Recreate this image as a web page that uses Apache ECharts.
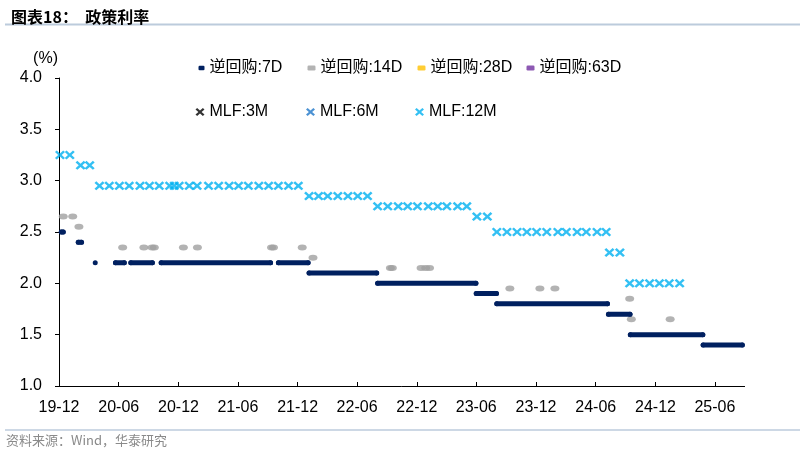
<!DOCTYPE html>
<html><head><meta charset="utf-8">
<script src="https://cdn.jsdelivr.net/npm/echarts@6/dist/echarts.min.js"></script>
<style>html,body{margin:0;padding:0;background:#fff}#c{width:800px;height:455px}</style>
</head><body><div id="c"></div>
<script>
// ---- axis ----
const X_ORIGIN = '2019-12-13';
const X_END = '2025-09-12';
const xTickDates = ['2019-12-13','2020-06-13','2020-12-13','2021-06-13','2021-12-13','2022-06-13','2022-12-13','2023-06-13','2023-12-13','2024-06-13','2024-12-13','2025-06-13'];
const xTickLabels = ['19-12','20-06','20-12','21-06','21-12','22-06','22-12','23-06','23-12','24-06','24-12','25-06'];
const yMin = 1.0, yMax = 4.0, yStep = 0.5;

// ---- 7D reverse repo: operation runs [start, end, rate] ----
const rr7Runs = [
  ['2019-12-20','2019-12-26',2.50],
  ['2020-02-10','2020-02-20',2.40],
  ['2020-04-02','2020-04-02',2.20],
  ['2020-06-03','2020-06-30',2.20],
  ['2020-07-20','2020-09-24',2.20],
  ['2020-10-21','2021-09-21',2.20],
  ['2021-10-15','2022-01-14',2.20],
  ['2022-01-17','2022-08-12',2.10],
  ['2022-08-15','2023-06-12',2.00],
  ['2023-06-13','2023-08-14',1.90],
  ['2023-08-15','2024-07-19',1.80],
  ['2024-07-22','2024-09-26',1.70],
  ['2024-09-27','2025-05-07',1.50],
  ['2025-05-08','2025-09-05',1.40]
];

// ---- 14D reverse repo ----
const rr14Dates = ['2019-12-26','2020-01-24','2020-02-12','2020-06-25','2020-08-29','2020-09-23','2020-09-30','2020-12-28','2021-02-09','2021-09-24','2021-09-30','2021-12-27','2022-01-29','2022-09-23','2022-09-29','2022-12-26','2023-01-09','2023-01-21','2023-09-24','2023-12-25','2024-02-09','2024-09-25','2024-09-30','2025-01-27'];
const rr14Rates = [2.65,2.65,2.55,2.35,2.35,2.35,2.35,2.35,2.35,2.35,2.35,2.35,2.25,2.15,2.15,2.15,2.15,2.15,1.95,1.95,1.95,1.85,1.65,1.65];

// ---- 28D / 63D reverse repo (no operations in range) ----
const rr28Dates = [], rr28Rates = [];
const rr63Dates = [], rr63Rates = [];

// ---- MLF ----
const mlf3Dates = [], mlf3Rates = [];
const mlf6Dates = [], mlf6Rates = [];
const mlf12Dates = ['2019-12-16','2020-01-15','2020-02-17','2020-03-16',
  '2020-04-15','2020-05-15','2020-06-15','2020-07-15','2020-08-17','2020-09-15','2020-10-15','2020-11-16','2020-11-30','2020-12-15',
  '2021-01-15','2021-02-08','2021-03-15','2021-04-15','2021-05-17','2021-06-15','2021-07-15','2021-08-16','2021-09-15','2021-10-15','2021-11-15','2021-12-15',
  '2022-01-17','2022-02-15','2022-03-15','2022-04-15','2022-05-16','2022-06-15','2022-07-15',
  '2022-08-15','2022-09-15','2022-10-17','2022-11-15','2022-12-15','2023-01-17','2023-02-15','2023-03-15','2023-04-17','2023-05-15',
  '2023-06-15','2023-07-17',
  '2023-08-15','2023-09-15','2023-10-16','2023-11-15','2023-12-15','2024-01-15','2024-02-18','2024-03-15','2024-04-17','2024-05-15','2024-06-17','2024-07-15',
  '2024-07-25','2024-08-26',
  '2024-09-25','2024-10-25','2024-11-25','2024-12-25','2025-01-24','2025-02-25'];
const mlf12Rates = [3.25,3.25,3.15,3.15,
  2.95,2.95,2.95,2.95,2.95,2.95,2.95,2.95,2.95,2.95,
  2.95,2.95,2.95,2.95,2.95,2.95,2.95,2.95,2.95,2.95,2.95,2.95,
  2.85,2.85,2.85,2.85,2.85,2.85,2.85,
  2.75,2.75,2.75,2.75,2.75,2.75,2.75,2.75,2.75,2.75,
  2.65,2.65,
  2.50,2.50,2.50,2.50,2.50,2.50,2.50,2.50,2.50,2.50,2.50,2.50,
  2.30,2.30,
  2.00,2.00,2.00,2.00,2.00,2.00];

// ---- helpers ----
const DAY = 86400000;
function ts(s){const p=s.split('-').map(Number);return Date.UTC(p[0],p[1]-1,p[2]);}
const T0 = ts(X_ORIGIN);
function dx(s){return (ts(s)-T0)/DAY;}
function pts(dates, rates){return dates.map((d,i)=>[dx(d), rates[i]]);}
const rr7Data = [];
rr7Runs.forEach(r=>{
  rr7Data.push([dx(r[0]), r[2]]);
  if (r[1] !== r[0]) rr7Data.push([dx(r[1]), r[2]]);
  rr7Data.push([dx(r[1]) + 0.5, '-']);
});
const xTickVals = xTickDates.map(dx);

const FONT = 'Liberation Sans, Arial, Noto Sans CJK SC, sans-serif';
const XSYM = 'path://M0,1.8L1.8,0L5,3.2L8.2,0L10,1.8L6.8,5L10,8.2L8.2,10L5,6.8L1.8,10L0,8.2L3.2,5Z';

function lg(name, left, top, icon, w, h){
  return {left:left, top:top, padding:0, itemGap:0, selectedMode:false, symbolKeepAspect:false,
    itemWidth:w, itemHeight:h,
    data:[icon ? {name:name, icon:icon} : {name:name}],
    textStyle:{fontSize:16, fontFamily:FONT, color:'#000', lineHeight:18}};
}

const chart = echarts.init(document.getElementById('c'), null, {renderer:'canvas'});
chart.setOption({
  animation:false,
  backgroundColor:'#fff',
  title:{text:'图表18：  政策利率', left:6, top:4,
    textStyle:{fontSize:16, fontWeight:'bold', color:'#000', fontFamily:'Noto Sans CJK SC, sans-serif'}},
  graphic:[
    {type:'line', shape:{x1:5,y1:24.5,x2:800,y2:24.5}, style:{stroke:'#bccbdc', lineWidth:2}},
    {type:'line', shape:{x1:5,y1:430,x2:800,y2:430}, style:{stroke:'#bccbdc', lineWidth:1.5}},
    {type:'text', left:6, top:434, style:{text:'资料来源：Wind，华泰研究', fill:'#8a8a8a', font:'13px "Noto Sans CJK SC", sans-serif'}}
  ],
  legend:[
    lg('逆回购:7D', 198.5, 59, 'roundRect', 6, 4.5),
    lg('逆回购:14D', 307.5, 59, 'roundRect', 8, 5),
    lg('逆回购:28D', 417.5, 59, 'roundRect', 8, 5),
    lg('逆回购:63D', 526.5, 59, 'roundRect', 8, 5),
    lg('MLF:3M', 195.5, 103, null, 9, 8),
    lg('MLF:6M', 306, 103, null, 9, 8),
    lg('MLF:12M', 415, 103, null, 9, 8)
  ],
  grid:{left:59, right:55.4, top:78, bottom:69, containLabel:false},
  xAxis:{type:'value', min:0, max:dx(X_END),
    axisLine:{show:true, onZero:false, lineStyle:{color:'#000', width:1}},
    axisTick:{show:true, inside:true, length:4, customValues:xTickVals, lineStyle:{color:'#000'}},
    axisLabel:{show:true, customValues:xTickVals, margin:14, fontSize:16, fontFamily:FONT, color:'#000',
      formatter:function(v){const i=xTickVals.findIndex(t=>Math.abs(t-v)<0.01);return i>=0?xTickLabels[i]:'';}},
    splitLine:{show:false}},
  yAxis:{type:'value', min:yMin, max:yMax, interval:yStep,
    name:'(%)', nameLocation:'end', nameGap:11,
    nameTextStyle:{fontSize:16, fontFamily:FONT, color:'#000', align:'right', padding:[0,1,0,0]},
    axisLine:{show:true, lineStyle:{color:'#000', width:1}},
    axisTick:{show:true, inside:false, length:4, lineStyle:{color:'#000'}},
    axisLabel:{margin:17, fontSize:16, fontFamily:FONT, color:'#000', formatter:v=>v.toFixed(1)},
    splitLine:{show:false}},
  series:[
    {name:'逆回购:7D', type:'line', data:rr7Data, connectNulls:false, color:'#002060',
      showSymbol:true, symbol:'circle', symbolSize:5, itemStyle:{color:'#002060'},
      lineStyle:{color:'#002060', width:5, cap:'round'}, emphasis:{disabled:true}, z:3},
    {name:'逆回购:14D', type:'scatter', data:pts(rr14Dates, rr14Rates), symbol:'circle', symbolSize:[9,6],
      itemStyle:{color:'#a0a0a0'}, emphasis:{disabled:true}, z:2},
    {name:'逆回购:28D', type:'scatter', data:pts(rr28Dates, rr28Rates), symbol:'circle', symbolSize:[9,6],
      itemStyle:{color:'#ffc000'}},
    {name:'逆回购:63D', type:'scatter', data:pts(rr63Dates, rr63Rates), symbol:'circle', symbolSize:[9,6],
      itemStyle:{color:'#7030a0'}},
    {name:'MLF:3M', type:'scatter', data:pts(mlf3Dates, mlf3Rates), symbol:XSYM, symbolSize:[10,9],
      itemStyle:{color:'#000000'}},
    {name:'MLF:6M', type:'scatter', data:pts(mlf6Dates, mlf6Rates), symbol:XSYM, symbolSize:[10,9],
      itemStyle:{color:'#1f77c8'}},
    {name:'MLF:12M', type:'scatter', data:pts(mlf12Dates, mlf12Rates), symbol:XSYM, symbolSize:[10,9],
      itemStyle:{color:'#00b0f0'}, emphasis:{disabled:true}}
  ]
});
</script>
</body></html>
